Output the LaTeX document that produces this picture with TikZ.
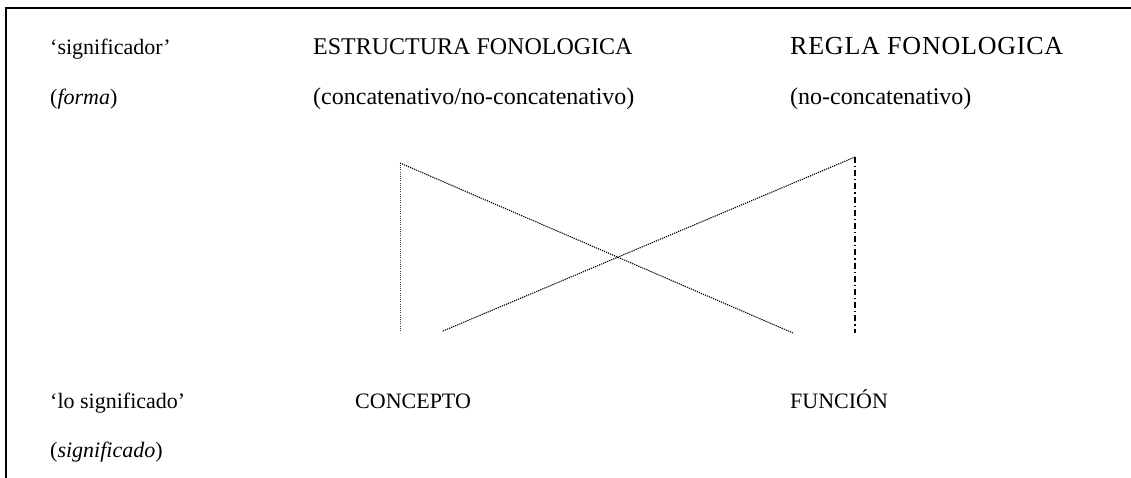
\documentclass[tikz,border=0pt]{standalone}
\usepackage{fontspec}
\setmainfont{Liberation Serif}
\begin{document}
\begin{tikzpicture}[x=1pt,y=-1pt,
  lbl/.style={anchor=base west,inner sep=0pt,font=\fontsize{24}{28}\selectfont},
  leftlbl/.style={lbl,font=\fontsize{22}{26}\selectfont},
  lowcaps/.style={lbl,font=\fontsize{22}{26}\selectfont},
  widecaps/.style={lbl,font=\fontsize{26}{30}\selectfont\addfontfeature{LetterSpace=3}},
  dotline/.style={line width=1.1pt,dash pattern=on 1.2pt off 1pt,black},
  vdotline/.style={line width=1pt,dash pattern=on 1pt off 1.2pt,black!75},
  dashdotline/.style={line width=1.4pt,dash pattern=on 6pt off 3pt on 1.2pt off 3pt,black},
  frameline/.style={line width=1.6pt,black}]
\useasboundingbox (0,0) rectangle (1131,478);
\draw[frameline] (6,478) -- (6,8) -- (1131,8);
% texts
\node[leftlbl] (sig) at (50,55) {‘significador’};
\node[leftlbl] (forma) at (50,105) {(\textit{forma})};
\node[lbl] (estr) at (313,55) {ESTRUCTURA FONOLOGICA};
\node[lbl] (conc) at (313,105) {(concatenativo/no-concatenativo)};
\node[widecaps] (regla) at (790,55) {REGLA FONOLOGICA};
\node[lbl] (noconc) at (790,105) {(no-concatenativo)};
\node[leftlbl] (losig) at (50,408) {‘lo significado’};
\node[leftlbl] (sigdo) at (50,457) {(\textit{significado})};
\node[lowcaps] (concepto) at (355,408) {CONCEPTO};
\node[lowcaps] (funcion) at (790,408) {FUNCIÓN};
% connector end points
\coordinate (lt) at (400,163);
\coordinate (lb) at (400,331);
\coordinate (lb2) at (443,331);
\coordinate (rt) at (855,157);
\coordinate (rb) at (855,333);
\coordinate (rb2) at (793,333);
\draw[vdotline] (lb) -- (lt);
\draw[dotline] (lt) -- (rb2);
\draw[dotline] (lb2) -- (rt);
\draw[dashdotline] (rt) -- (rb);
\end{tikzpicture}
\end{document}
